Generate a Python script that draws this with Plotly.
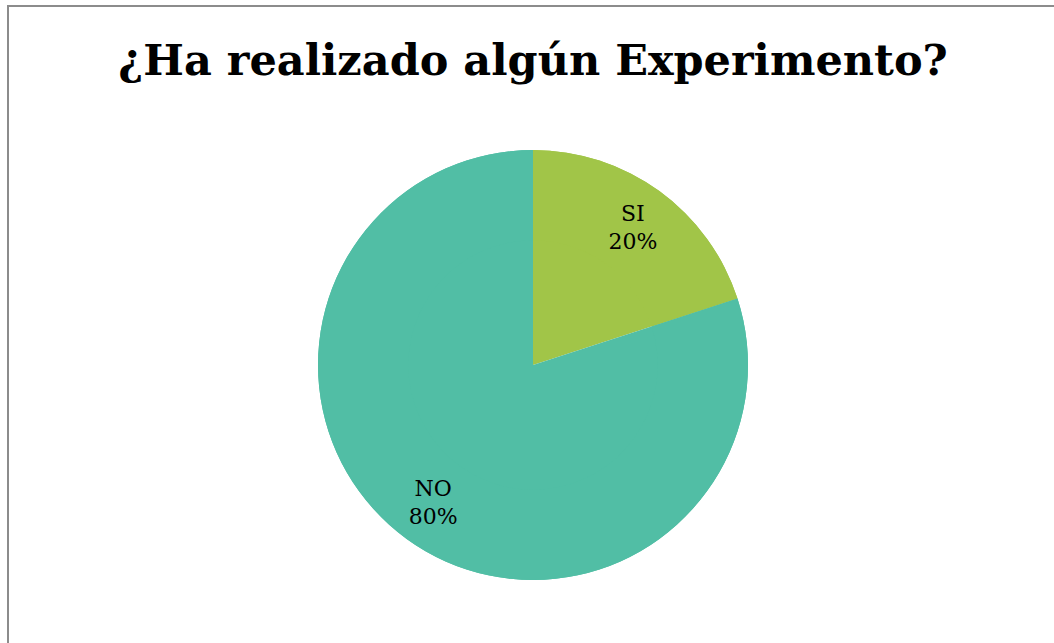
import plotly.graph_objects as go

labels = ["SI", "NO"]
values = [20, 80]
colors = ["#A1C548", "#51BEA5"]
title_text = "¿Ha realizado algún Experimento?"

W, H = 1054, 643
cx, cy, r = 533, 365, 215
dom = dict(x=[(cx - r) / W, (cx + r) / W], y=[1 - (cy + r) / H, 1 - (cy - r) / H])

fig = go.Figure()
# full pie (fill)
fig.add_trace(go.Pie(
    labels=labels, values=values, sort=False, direction="clockwise", rotation=0,
    marker=dict(colors=colors, line=dict(width=0)),
    textinfo="none", hoverinfo="label+percent", domain=dom, showlegend=False,
))
# annulus carrying the labels so they sit at ~0.8 of the radius
fig.add_trace(go.Pie(
    labels=labels, values=values, sort=False, direction="clockwise", rotation=0,
    hole=0.58,
    marker=dict(colors=colors, line=dict(width=0)),
    textinfo="label+percent", textposition="inside", insidetextorientation="horizontal",
    textfont=dict(family="DejaVu Serif", size=22, color="black"),
    hoverinfo="skip", domain=dom, showlegend=False,
))

fig.update_layout(
    width=W, height=H,
    margin=dict(l=0, r=0, t=0, b=0),
    paper_bgcolor="white",
    title=dict(text="<b>" + title_text + "</b>", x=cx / W, xanchor="center",
               y=1 - 60 / H, yanchor="middle",
               font=dict(family="DejaVu Serif", size=43, color="black")),
    shapes=[dict(type="rect", xref="paper", yref="paper",
                 x0=8 / W, x1=1.2, y0=-0.2, y1=1 - 6 / H,
                 line=dict(color="#8c8c8c", width=2))],
)

fig.write_html("out.html", config={"displayModeBar": False},
               post_script="document.body.style.margin='0';")
